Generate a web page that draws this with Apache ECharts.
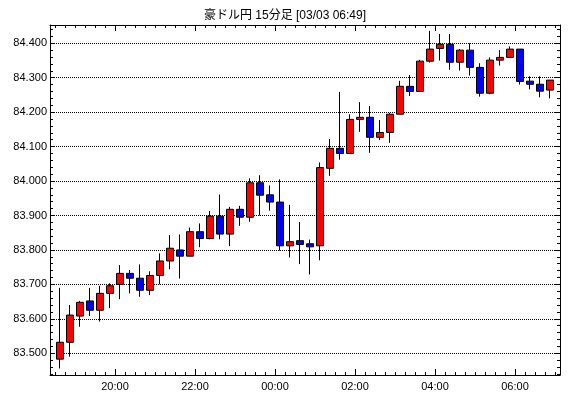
<!DOCTYPE html>
<html><head><meta charset="utf-8">
<script src="https://cdn.jsdelivr.net/npm/echarts@6/dist/echarts.min.js"></script>
<style>html,body{margin:0;padding:0;background:#fff}#c{width:570px;height:398px}</style>
</head><body><div id="c"></div>
<script>
// ---- data ----
const titleText = '豪ドル円 15分足 [03/03 06:49]';
const times = ['18:30','18:45','19:00','19:15','19:30','19:45','20:00','20:15','20:30','20:45',
  '21:00','21:15','21:30','21:45','22:00','22:15','22:30','22:45','23:00','23:15',
  '23:30','23:45','00:00','00:15','00:30','00:45','01:00','01:15','01:30','01:45',
  '02:00','02:15','02:30','02:45','03:00','03:15','03:30','03:45','04:00','04:15',
  '04:30','04:45','05:00','05:15','05:30','05:45','06:00','06:15','06:30','06:45'];
const opens = [83.483,83.532,83.608,83.652,83.625,83.674,83.700,83.732,83.718,83.683,
  83.726,83.768,83.800,83.782,83.853,83.833,83.898,83.846,83.918,83.895,
  83.995,83.960,83.939,83.812,83.827,83.818,83.812,84.037,84.095,84.080,
  84.179,84.185,84.127,84.141,84.194,84.275,84.260,84.348,84.385,84.397,
  84.345,84.380,84.330,84.255,84.351,84.359,84.383,84.290,84.281,84.264];
const closes = [83.532,83.611,83.648,83.625,83.674,83.696,83.732,83.718,83.683,83.726,
  83.768,83.805,83.782,83.853,83.833,83.898,83.846,83.918,83.895,83.995,
  83.959,83.939,83.812,83.824,83.816,83.809,84.039,84.095,84.080,84.179,
  84.185,84.127,84.141,84.194,84.275,84.260,84.348,84.383,84.397,84.345,
  84.380,84.330,84.255,84.351,84.359,84.383,84.289,84.281,84.261,84.293];
const lows = [83.456,83.490,83.577,83.608,83.592,83.631,83.657,83.674,83.664,83.669,
  83.700,83.744,83.717,83.782,83.808,83.831,83.831,83.811,83.870,83.882,
  83.900,83.914,83.798,83.778,83.759,83.729,83.770,84.015,84.062,84.080,
  84.143,84.082,84.119,84.111,84.194,84.247,84.260,84.344,84.350,84.323,
  84.321,84.306,84.245,84.252,84.335,84.359,84.280,84.266,84.243,84.240];
const highs = [83.690,83.640,83.652,83.690,83.696,83.703,83.756,83.742,83.758,83.738,
  83.790,83.843,83.845,83.865,83.877,83.913,83.961,83.925,83.928,84.008,
  84.017,83.987,84.005,83.931,83.881,83.830,84.054,84.122,84.259,84.194,
  84.229,84.218,84.177,84.198,84.291,84.308,84.352,84.436,84.427,84.427,
  84.383,84.400,84.342,84.359,84.380,84.391,84.383,84.304,84.304,84.293];
const xTickLabels = ['20:00','22:00','00:00','02:00','04:00','06:00'];
const yTickLabels = ['83.500','83.600','83.700','83.800','83.900','84.000','84.100','84.200','84.300','84.400'];

// ---- helpers ----
const BASE_HOUR = 18;
function toMin(s){ const p=s.split(':'); let h=+p[0]; if(h<BASE_HOUR) h+=24; return (h-BASE_HOUR)*60 + (+p[1]); }
function fmtMin(v){ const t=Math.round(v); let h=(Math.floor(t/60)+BASE_HOUR)%24; const m=t%60; return String(h).padStart(2,'0')+':'+String(m).padStart(2,'0'); }
const SLOT = 15;
const candleData = times.map((t,i)=>[toMin(t)+SLOT/2, opens[i], closes[i], lows[i], highs[i]]);
const xMin = toMin(times[0]) - SLOT/2;
const xMax = toMin(times[times.length-1]) + SLOT + SLOT/2;
const majorX = xTickLabels.map(toMin);
const minorX = [];
for (let m = toMin(times[0]); m <= toMin(times[times.length-1]) + SLOT; m += SLOT) minorX.push(m);
const majorY = yTickLabels.map(Number);
const yMin = 83.437, yMax = 84.453;
const minorY = [];
for (let v = 83.44; v <= 84.4501; v += 0.02) minorY.push(Math.round(v*1000)/1000);

const font = '"Liberation Sans", Arial, "Noto Sans CJK JP", sans-serif';
const black = '#000';
const gridRect = {left:50, right:10, top:25, bottom:23};

function xAx(grid, pos, ticks, len, labels, line){
  return {type:'value', gridIndex:grid, position:pos, min:xMin, max:xMax,
    axisLine:{show:line, onZero:false, lineStyle:{color:black, width:1}},
    axisTick:{show:true, inside:true, length:len, customValues:ticks, lineStyle:{color:black, width:1}},
    axisLabel:{show:labels, customValues:ticks, formatter:fmtMin, color:black, fontSize:11, margin:6, fontFamily:font},
    splitLine:{show:false}};
}
function yAx(grid, pos, ticks, len, labels, line, split){
  return {type:'value', gridIndex:grid, position:pos, min:yMin, max:yMax, splitNumber:10,
    axisLine:{show:line, onZero:false, lineStyle:{color:black, width:1}},
    axisTick:{show:true, inside:true, length:len, customValues:ticks, lineStyle:{color:black, width:1}},
    axisLabel:{show:labels, customValues:ticks, formatter:v=>Number(v).toFixed(3), color:black, fontSize:11, margin:3, fontFamily:font},
    splitLine:{show:split, lineStyle:{color:black, width:1, type:[1,1]}}};
}

const chart = echarts.init(document.getElementById('c'), null, {renderer:'canvas'});
chart.setOption({
  animation:false,
  backgroundColor:'#fff',
  title:{text:titleText, left:'center', top:5, textStyle:{fontSize:12, fontWeight:'normal', color:black, fontFamily:font}},
  grid:[Object.assign({}, gridRect), Object.assign({}, gridRect)],
  xAxis:[
    xAx(0,'bottom',majorX,6,true,true),
    xAx(0,'top',majorX,6,false,true),
    xAx(1,'bottom',minorX,3,false,false),
    xAx(1,'top',minorX,3,false,false)
  ],
  yAxis:[
    yAx(0,'left',majorY,5,true,true,true),
    yAx(0,'right',majorY,5,false,true,false),
    yAx(1,'left',minorY,3,false,false,false),
    yAx(1,'right',minorY,3,false,false,false)
  ],
  series:[{
    type:'candlestick', xAxisIndex:0, yAxisIndex:0, barWidth:7,
    data:candleData,
    itemStyle:{color:'#ff0000', color0:'#0000ff', borderColor:black, borderColor0:black, borderWidth:1}
  }]
});
</script>
</body></html>
